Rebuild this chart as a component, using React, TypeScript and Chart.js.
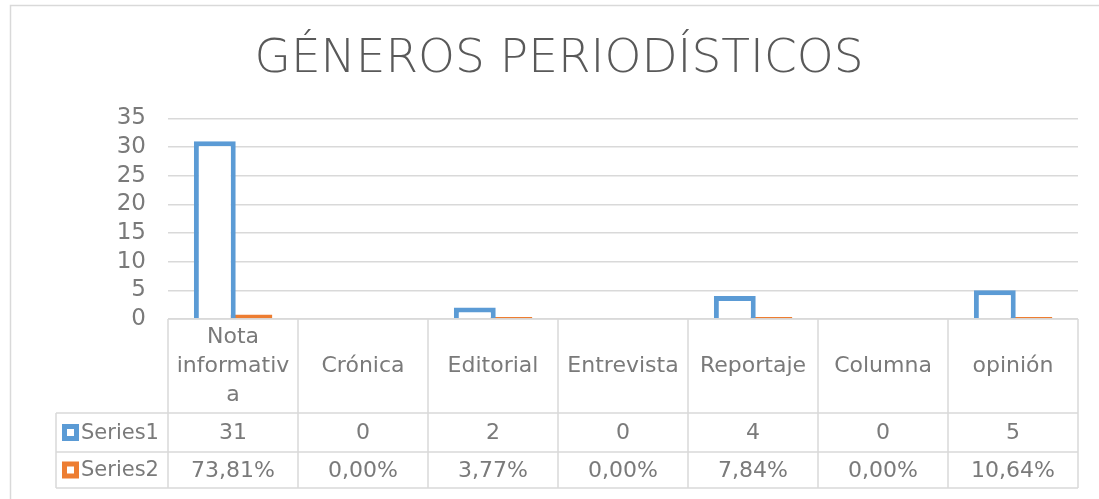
import React, { useEffect, useRef } from "react";
import { Chart, registerables } from "chart.js";

Chart.register(...registerables);

const chartTitle = "GÉNEROS PERIODÍSTICOS";
const categories: (string | string[])[] = [
  ["Nota", "informativ", "a"],
  "Crónica",
  "Editorial",
  "Entrevista",
  "Reportaje",
  "Columna",
  "opinión",
];
const seriesNames = ["Series1", "Series2"];
const series1 = [31, 0, 2, 0, 4, 0, 5];
const series2 = [0.7381, 0, 0.0377, 0, 0.0784, 0, 0.1064];
const seriesColors = ["#5B9BD5", "#ED7D31"];
const yMax = 35;
const yStep = 5;

const FONT = "'DejaVu Sans', sans-serif";
const TEXT_GREY = "#7A7A7A";
const LINE_GREY = "#D9D9D9";

const fmtPct = (v: number) => (v * 100).toFixed(2).replace(".", ",") + "%";

const tablePlugin = {
  id: "dataTable",
  beforeDraw(chart: any) {
    const { ctx, width, height } = chart;
    ctx.save();
    ctx.fillStyle = "#FFFFFF";
    ctx.fillRect(0, 0, width, height);
    ctx.strokeStyle = LINE_GREY;
    ctx.lineWidth = 1.5;
    ctx.strokeRect(10.5, 5.5, width + 50, height + 50);
    ctx.restore();
  },
  afterDraw(chart: any) {
    const { ctx, chartArea } = chart;
    const n = categories.length;
    const left = chartArea.left;
    const right = chartArea.right;
    const colW = (right - left) / n;
    const top = chartArea.bottom;
    const headerH = 94;
    const rowHs = [39, 36];
    const legendLeft = 56;
    const row1Top = top + headerH;
    const row2Top = row1Top + rowHs[0];
    const bottom = row2Top + rowHs[1];

    ctx.save();
    ctx.strokeStyle = LINE_GREY;
    ctx.lineWidth = 1.5;
    ctx.beginPath();
    ctx.moveTo(left, top);
    ctx.lineTo(right, top);
    [row1Top, row2Top, bottom].forEach((y) => {
      ctx.moveTo(legendLeft, y);
      ctx.lineTo(right, y);
    });
    for (let i = 0; i <= n; i++) {
      const x = left + i * colW;
      ctx.moveTo(x, top);
      ctx.lineTo(x, bottom);
    }
    ctx.moveTo(legendLeft, row1Top);
    ctx.lineTo(legendLeft, bottom);
    ctx.stroke();

    ctx.fillStyle = TEXT_GREY;
    ctx.font = `22px ${FONT}`;
    ctx.textAlign = "center";
    ctx.textBaseline = "middle";
    const lineH = 29;
    categories.forEach((label, i) => {
      const cx = left + (i + 0.5) * colW;
      const lines = Array.isArray(label) ? label : [label];
      const y0 = top + headerH / 2 - ((lines.length - 1) * lineH) / 2;
      lines.forEach((ln, j) => ctx.fillText(ln, cx, y0 + j * lineH));
    });

    const rows = [series1.map((v) => String(v)), series2.map(fmtPct)];
    const rowTops = [row1Top, row2Top];
    rows.forEach((vals, r) => {
      const cy = rowTops[r] + rowHs[r] / 2;
      ctx.font = `22px ${FONT}`;
      vals.forEach((t, i) => {
        ctx.textAlign = "center";
        ctx.fillText(t, left + (i + 0.5) * colW, cy + 1);
      });
      const ks = 17;
      ctx.fillStyle = seriesColors[r];
      ctx.fillRect(62, cy - ks / 2, ks, ks);
      ctx.fillStyle = "#FFFFFF";
      ctx.fillRect(62 + 5, cy - ks / 2 + 5, ks - 10, ks - 10);
      ctx.fillStyle = TEXT_GREY;
      ctx.textAlign = "left";
      ctx.font = `21px ${FONT}`;
      ctx.fillText(seriesNames[r], 81, cy + 1);
    });
    ctx.restore();
  },
};

export default function App() {
  const canvasRef = useRef<HTMLCanvasElement | null>(null);

  useEffect(() => {
    document.body.style.margin = "0";
    const canvas = canvasRef.current;
    if (!canvas) return;
    const chart = new Chart(canvas, {
      type: "bar",
      data: {
        labels: categories,
        datasets: [
          {
            label: seriesNames[0],
            data: series1,
            backgroundColor: "#FFFFFF",
            borderColor: seriesColors[0],
            borderWidth: 5,
            borderSkipped: "start",
            categoryPercentage: 0.56,
            barPercentage: 1.15,
          },
          {
            label: seriesNames[1],
            data: series2.map((v) => (v === 0 ? null : v)),
            backgroundColor: seriesColors[1],
            borderWidth: 0,
            minBarLength: 2,
            categoryPercentage: 0.56,
            barPercentage: 1.15,
          },
        ],
      },
      options: {
        responsive: false,
        animation: false,
        layout: { padding: { left: 40, right: 21, top: 0, bottom: 180 } },
        plugins: {
          legend: { display: false },
          tooltip: { enabled: false },
          title: {
            display: true,
            text: chartTitle,
            color: "#595959",
            font: { family: FONT, size: 47, weight: 300 },
            padding: { top: 32, bottom: 30 },
          },
        },
        scales: {
          x: {
            display: false,
          },
          y: {
            min: 0,
            max: yMax,
            ticks: {
              stepSize: yStep,
              autoSkip: false,
              color: TEXT_GREY,
              font: { family: FONT, size: 23, lineHeight: 1 },
              padding: 22,
            },
            grid: { color: LINE_GREY, lineWidth: 1.5, drawTicks: false },
            border: { display: false },
            afterFit: (scale: any) => {
              scale.width = 128;
            },
          },
        },
      },
      plugins: [tablePlugin],
    });
    return () => chart.destroy();
  }, []);

  return (
    <div style={{ width: 1099, height: 499 }}>
      <canvas ref={canvasRef} width={1099} height={499} style={{ display: "block" }} />
    </div>
  );
}
